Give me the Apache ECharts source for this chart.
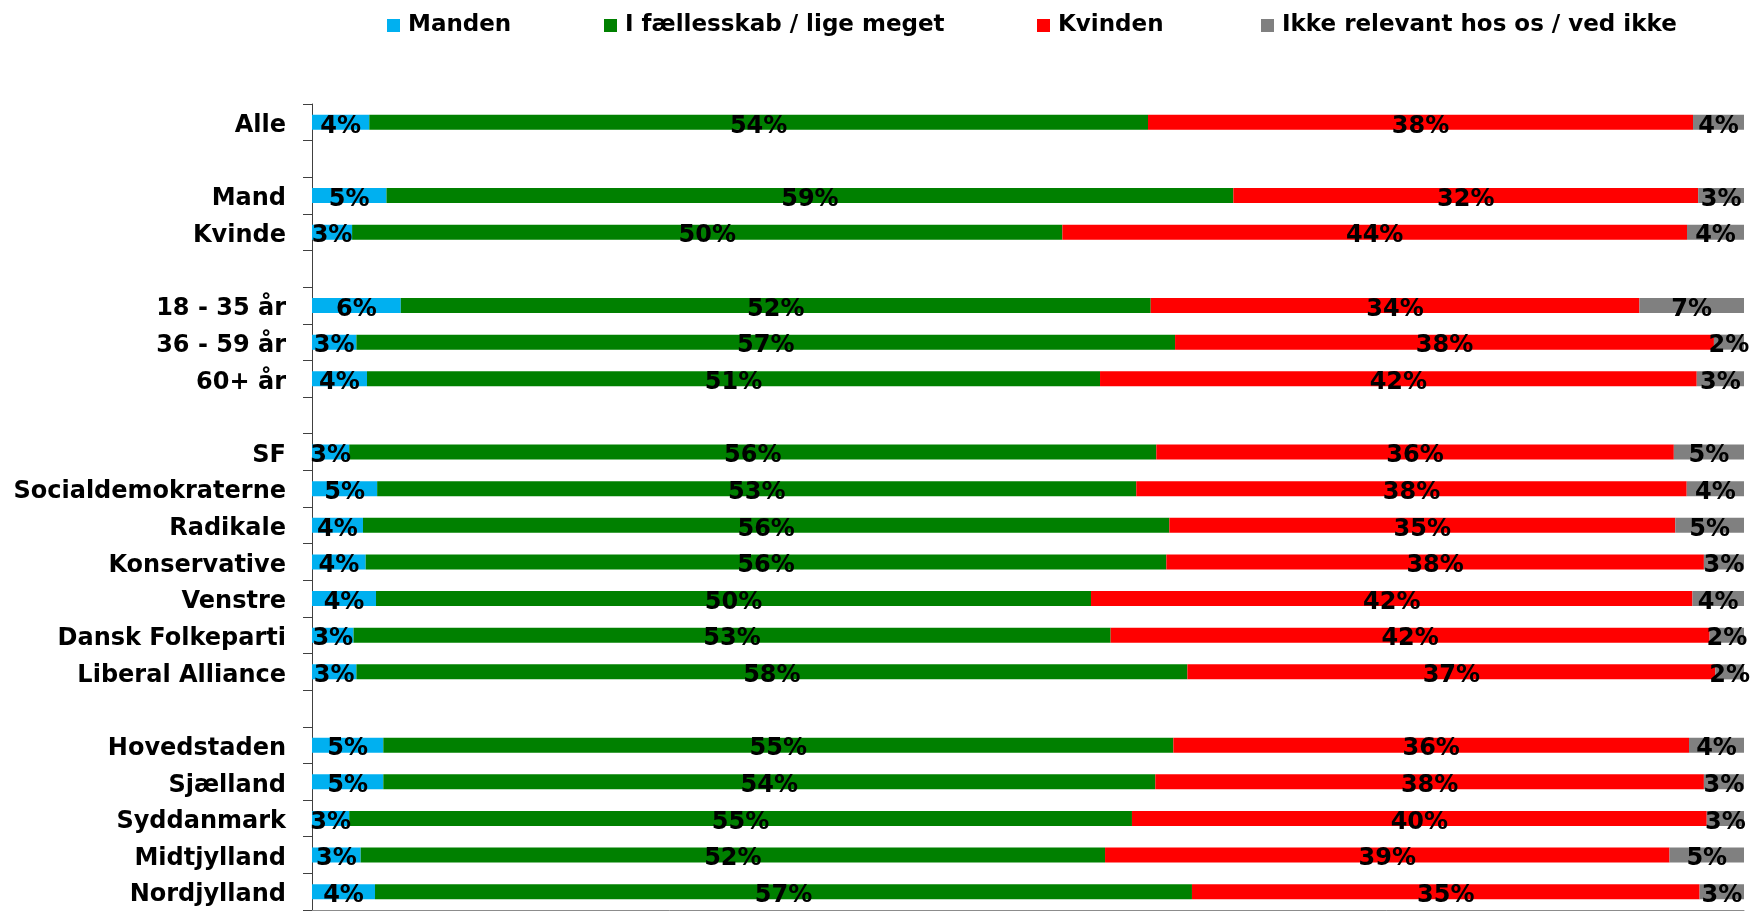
<!DOCTYPE html>
<html>
<head>
<meta charset="utf-8">
<script src="https://cdn.jsdelivr.net/npm/echarts/dist/echarts.min.js"></script>
<style>
html,body{margin:0;padding:0;background:#fff;}
#chart{width:1754px;height:912px;}
</style>
</head>
<body>
<div id="chart"></div>
<script>
const categories = ['Alle','','Mand','Kvinde',' ','18 - 35 år','36 - 59 år','60+ år','  ','SF','Socialdemokraterne','Radikale','Konservative','Venstre','Dansk Folkeparti','Liberal Alliance','   ','Hovedstaden','Sjælland','Syddanmark','Midtjylland','Nordjylland'];
const seriesNames = ['Manden','I fællesskab / lige meget','Kvinden','Ikke relevant hos os / ved ikke'];
const manden  = [4.0,'-',5.2,2.8,'-',6.2,3.1,3.84,'-',2.6,4.55,3.56,3.75,4.47,2.9,3.1,'-',4.98,4.98,2.6,3.4,4.4];
const faelles = [54.38,'-',59.14,49.6,'-',52.37,57.17,51.19,'-',56.36,53.01,56.31,55.91,49.93,52.87,58.03,'-',55.17,53.91,54.66,51.98,57.05];
const kvinden = [38.06,'-',32.46,43.62,'-',34.13,37.63,41.67,'-',36.14,38.44,35.33,37.54,42.0,41.83,36.87,'-',36.01,38.31,40.14,39.42,35.45];
const ikke    = [3.56,'-',3.2,3.98,'-',7.3,2.1,3.3,'-',4.9,4.0,4.8,2.8,3.6,2.4,2.0,'-',3.84,2.8,2.6,5.2,3.1];
const colors = ['#00B0F0','#008000','#FF0000','#808080'];
const legendLefts = [382, 599, 1032, 1256];

const FONT = '"DejaVu Sans", "Liberation Sans", Arial, sans-serif';
const chart = echarts.init(document.getElementById('chart'));
const values = [manden, faelles, kvinden, ikke];
chart.setOption({
  animation: false,
  color: colors,
  legend: seriesNames.map((n, i) => ({
    top: 9,
    left: legendLefts[i],
    itemWidth: 13,
    itemHeight: 13,
    icon: 'rect',
    selectedMode: false,
    textStyle: {fontFamily: FONT, fontSize: 23, fontWeight: 'bold', color: '#000', padding: [0,0,0,3]},
    data: [n]
  })),
  grid: {left: 312, right: 10, top: 104, bottom: 2, containLabel: false},
  xAxis: {
    type: 'value', min: 0, max: 100,
    axisLine: {show: true, lineStyle: {color: '#8c8c8c', width: 1}},
    axisTick: {show: false}, axisLabel: {show: false}, splitLine: {show: false}
  },
  yAxis: {
    type: 'category', inverse: true, data: categories,
    axisLine: {show: true, lineStyle: {color: '#404040', width: 1}},
    axisTick: {show: true, length: 9, lineStyle: {color: '#404040'}},
    axisLabel: {
      margin: 26,
      formatter: v => v.trim() ? '{c|' + v + '}' : '',
      rich: {c: {padding: [7, 0, 0, 0], fontFamily: FONT, fontSize: 24, fontWeight: 'bold', color: '#000'}}
    }
  },
  series: seriesNames.map((n, i) => ({
    name: n, type: 'bar', stack: 'total', barWidth: 15,
    data: values[i],
    label: {
      show: true, position: 'inside', offset: [0, 4],
      fontFamily: FONT, fontSize: 24, fontWeight: 'bold', color: '#000',
      formatter: p => Math.round(p.value) + '%'
    }
  }))
});
</script>
</body>
</html>
